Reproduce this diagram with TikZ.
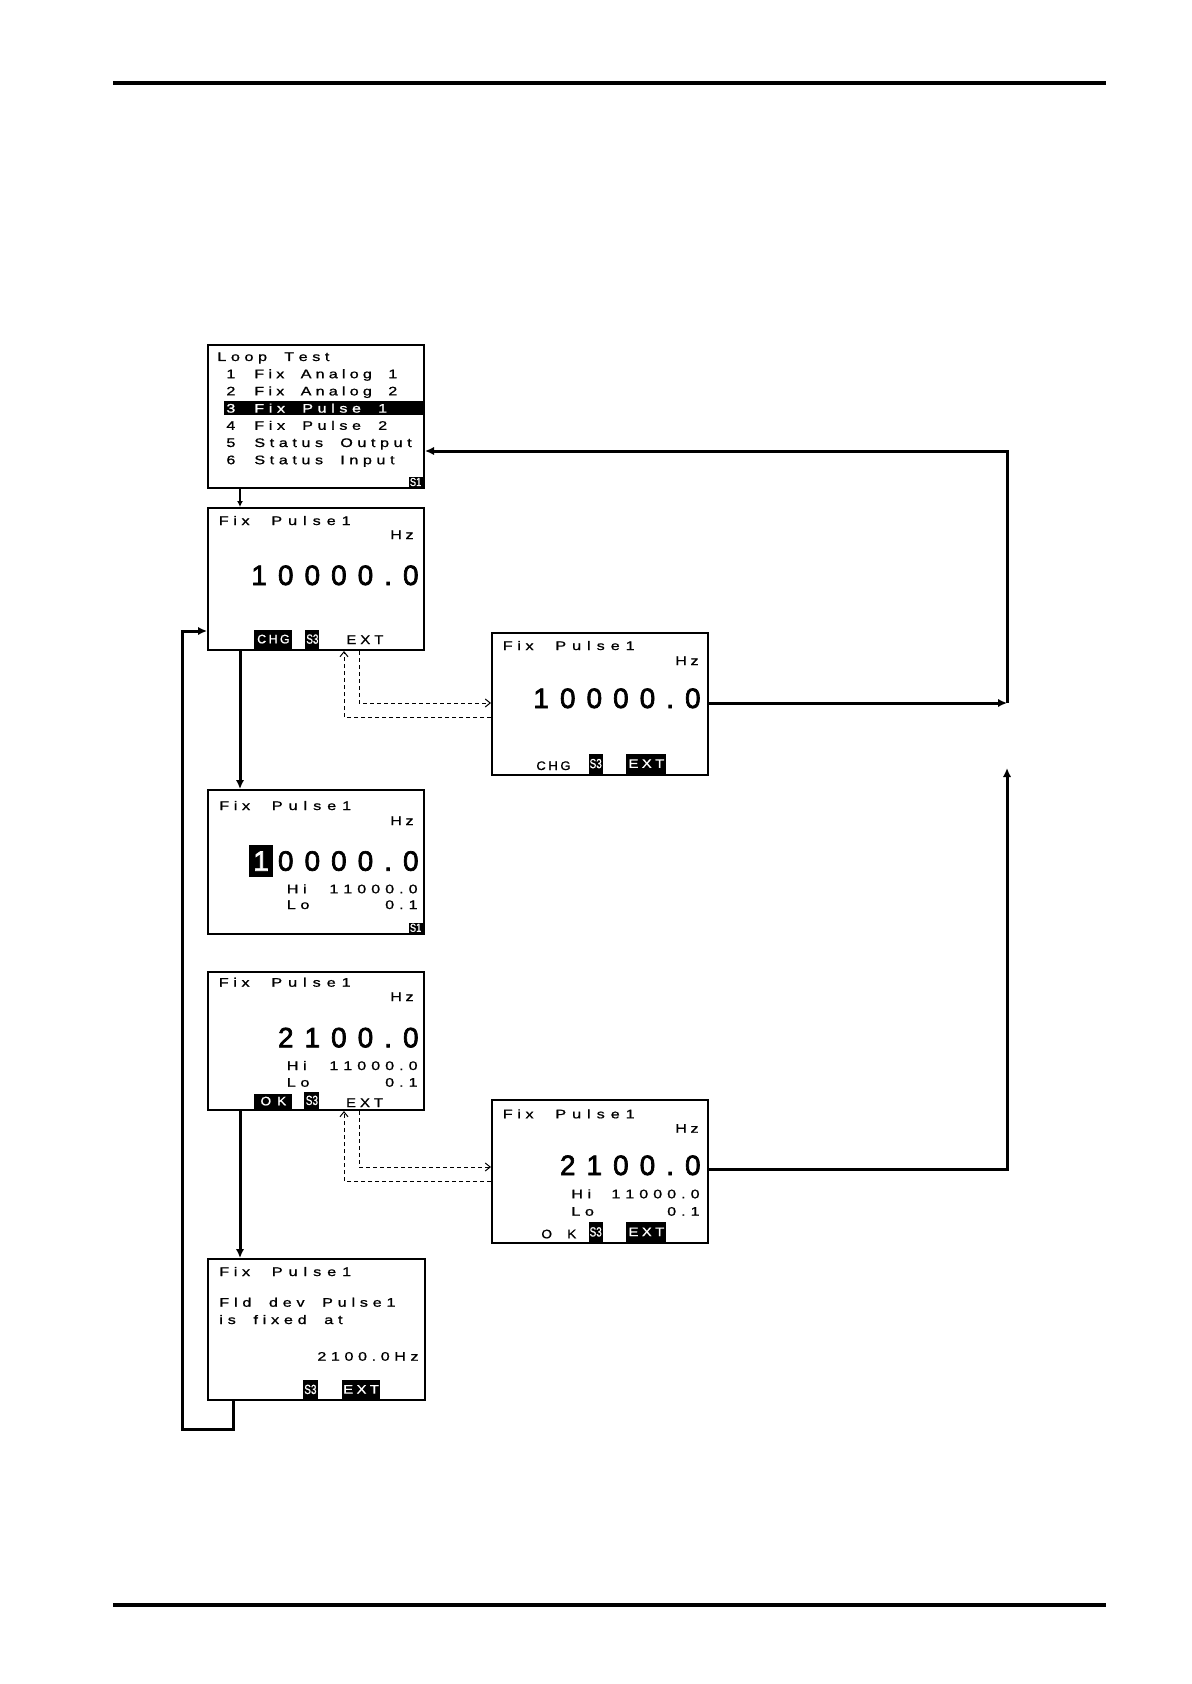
\documentclass[tikz,border=0pt]{standalone}
\usepackage{fontspec}
\usepackage{graphicx}
\usetikzlibrary{arrows.meta,calc}
\newfontfamily\lcdfont[FakeBold=0.9]{Liberation Sans}
\newfontfamily\lcdbigfont[FakeBold=2.4]{Liberation Sans}
\newdimen\lcdsp \lcdsp=4pt
\ExplSyntaxOn
\NewDocumentCommand\trk{O{1.3}mm}{\str_map_inline:nn{#3}{\str_if_eq:nnTF{##1}{~}{\kern\lcdsp}{\scalebox{#1}[1]{##1}}\kern#2\relax}\unkern}
\ExplSyntaxOff
\newcommand\lcdS{\lcdfont\fontsize{6.2pt}{7pt}\selectfont}
\newcommand\lcdB{\lcdbigfont\fontsize{14pt}{15pt}\selectfont}
\newcommand\sthree{\scalebox{0.75}[1]{\lcdfont\fontsize{6.6pt}{6.6pt}\selectfont S3}}
\newcommand\sone{\scalebox{0.8}[1]{\lcdfont\fontsize{5.8pt}{5.8pt}\selectfont S1}}
\newcommand\bfnt{\lcdfont\fontsize{6.2pt}{6.2pt}\selectfont}
\begin{document}
\begin{tikzpicture}[x=0.5pt,y=-0.5pt,
  screen/.style={draw,line width=1pt,anchor=north west,inner sep=0,minimum width=108pt},
  lcd/.style={inner sep=0,font=\lcdS},
  big/.style={inner sep=0,font=\lcdB},
  badge/.style={fill=black,text=white,inner sep=0,anchor=south west},
  conn/.style={line width=1.5pt,-{Latex[length=4.5pt,width=4.2pt]}},
  dsh/.style={line width=0.5pt,dash pattern=on 2pt off 1.5pt,-{Straight Barb[length=2.5pt,width=4pt]}},
]
\useasboundingbox (0,0) rectangle (1191,1684);
\fill[white] (0,0) rectangle (1191,1684);
% page rules
\draw[line width=2pt] (113,83) -- (1106,83);
\draw[line width=1.7pt] (113,1605) -- (1106,1605);

% ---------- screens ----------
\node[screen,minimum height=71.5pt] (s1) at (207,344) {};
\node[screen,minimum height=71pt] (s2) at (207,507) {};
\node[screen,minimum height=71pt] (s3) at (491,632) {};
\node[screen,minimum height=72pt] (s4) at (207,789) {};
\node[screen,minimum height=69pt] (s5) at (207,971) {};
\node[screen,minimum height=71.5pt] (s6) at (491,1099) {};
\node[screen,minimum height=70.5pt,minimum width=108.5pt] (s7) at (207,1258) {};

% ---------- screen 1 ----------
\node[fill=black,inner sep=0,anchor=north west,minimum width=99.5pt,minimum height=7.3pt] (s1band) at (224,400.5) {};
\node[lcd,anchor=base west] (s1t0) at (217,361) {\trk{2.3pt}{Loop Test}};
\node[lcd,anchor=base west] (s1n1) at (226,378.2) {\trk{0pt}{1}};
\node[lcd,anchor=base west] (s1t1) at (254,378.2) {\trk{2.1pt}{Fix Analog 1}};
\node[lcd,anchor=base west] (s1n2) at (226,395.4) {\trk{0pt}{2}};
\node[lcd,anchor=base west] (s1t2) at (254,395.4) {\trk{2.1pt}{Fix Analog 2}};
\node[lcd,anchor=base west,text=white] (s1n3) at (226,412.6) {\trk{0pt}{3}};
\node[lcd,anchor=base west,text=white] (s1t3) at (254,412.6) {\trk{2.3pt}{Fix Pulse 1}};
\node[lcd,anchor=base west] (s1n4) at (226,429.8) {\trk{0pt}{4}};
\node[lcd,anchor=base west] (s1t4) at (254,429.8) {\trk{2.3pt}{Fix Pulse 2}};
\node[lcd,anchor=base west] (s1n5) at (226,447) {\trk{0pt}{5}};
\node[lcd,anchor=base west] (s1t5) at (254,447) {\trk{2.3pt}{Status Output}};
\node[lcd,anchor=base west] (s1n6) at (226,464.2) {\trk{0pt}{6}};
\node[lcd,anchor=base west] (s1t6) at (254,464.2) {\trk{2.3pt}{Status Input}};
\node[badge,anchor=south east,minimum width=7pt,minimum height=4.6pt] (s1b) at (423,487) {\sone};

% ---------- screen 2 ----------
\node[lcd,anchor=base west] (s2t) at (218.5,525) {\trk{2.3pt}{Fix}};
\node[lcd,anchor=base west] (s2p) at (271,525) {\trk{3pt}{Pulse1}};
\node[lcd,anchor=base east] (s2u) at (414,539) {\trk{1.8pt}{Hz}};
\node[big,anchor=base east] (s2v) at (419,585) {\trk[1]{5.5pt}{10000.0}};
\node[badge,minimum width=19pt,minimum height=9.5pt] (s2c) at (254,649) {\bfnt\trk[1]{1.2pt}{CHG}};
\node[badge,minimum width=7pt,minimum height=9.5pt] (s2s) at (305,649) {\sthree};
\node[lcd,anchor=base west] (s2e) at (346,644) {\trk[1.2]{2pt}{EXT}};

% ---------- screen 3 ----------
\node[lcd,anchor=base west] (s3t) at (502.5,650) {\trk{2.3pt}{Fix}};
\node[lcd,anchor=base west] (s3p) at (555,650) {\trk{3pt}{Pulse1}};
\node[lcd,anchor=base east] (s3u) at (699,665) {\trk{1.8pt}{Hz}};
\node[big,anchor=base east] (s3v) at (701,708) {\trk[1]{5.5pt}{10000.0}};
\node[lcd,anchor=base west] (s3c) at (536,770) {\trk[1.05]{1.3pt}{CHG}};
\node[badge,minimum width=7pt,minimum height=10pt] (s3s) at (588.3,774) {\sthree};
\node[badge,minimum width=20pt,minimum height=10pt] (s3e) at (626,774) {\bfnt\trk[1.2]{1.7pt}{EXT}};

% ---------- screen 4 ----------
\node[lcd,anchor=base west] (s4t) at (219,810) {\trk{2.3pt}{Fix}};
\node[lcd,anchor=base west] (s4p) at (271.5,810) {\trk{3pt}{Pulse1}};
\node[lcd,anchor=base east] (s4u) at (414,825) {\trk{1.8pt}{Hz}};
\node[fill=black,inner sep=0,anchor=south west,minimum width=12.2pt,minimum height=15.8pt] (s4k) at (248.3,877.3) {};
\node[big,anchor=base,text=white] (s4d) at (261,870.7) {1};
\node[big,anchor=base east] (s4v) at (419,870.7) {\trk[1]{5.5pt}{0000.0}};
\node[lcd,anchor=base west] (s4h) at (286.5,893.3) {\trk{2.3pt}{Hi}};
\node[lcd,anchor=base east] (s4hv) at (418,893.3) {\trk{2.5pt}{11000.0}};
\node[lcd,anchor=base west] (s4l) at (286.5,909) {\trk{2.3pt}{Lo}};
\node[lcd,anchor=base east] (s4lv) at (418,909) {\trk{2.5pt}{0.1}};
\node[badge,anchor=south east,minimum width=7pt,minimum height=4.8pt] (s4b) at (423,933) {\sone};

% ---------- screen 5 ----------
\node[lcd,anchor=base west] (s5t) at (218.5,986.7) {\trk{2.3pt}{Fix}};
\node[lcd,anchor=base west] (s5p) at (271,986.7) {\trk{3pt}{Pulse1}};
\node[lcd,anchor=base east] (s5u) at (414,1001) {\trk{1.8pt}{Hz}};
\node[big,anchor=base east] (s5v) at (419,1047.3) {\trk[1]{5.5pt}{2100.0}};
\node[lcd,anchor=base west] (s5h) at (286.5,1070) {\trk{2.3pt}{Hi}};
\node[lcd,anchor=base east] (s5hv) at (418,1070) {\trk{2.5pt}{11000.0}};
\node[lcd,anchor=base west] (s5l) at (286.5,1086.7) {\trk{2.3pt}{Lo}};
\node[lcd,anchor=base east] (s5lv) at (418,1086.7) {\trk{2.5pt}{0.1}};
\node[badge,minimum width=19pt,minimum height=7.5pt] (s5k) at (254,1109) {\bfnt\scalebox{1.1}[1]{O}\hspace{3pt}\scalebox{1.1}[1]{K}};
\node[badge,minimum width=7.5pt,minimum height=8.2pt] (s5s) at (304,1109) {\sthree};
\node[lcd,anchor=base west] (s5e) at (345.7,1107) {\trk[1.2]{2pt}{EXT}};

% ---------- screen 6 ----------
\node[lcd,anchor=base west] (s6t) at (502.5,1118.3) {\trk{2.3pt}{Fix}};
\node[lcd,anchor=base west] (s6p) at (555,1118.3) {\trk{3pt}{Pulse1}};
\node[lcd,anchor=base east] (s6u) at (699,1132.7) {\trk{1.8pt}{Hz}};
\node[big,anchor=base east] (s6v) at (701,1175) {\trk[1]{5.5pt}{2100.0}};
\node[lcd,anchor=base west] (s6h) at (571,1198.3) {\trk{2.3pt}{Hi}};
\node[lcd,anchor=base east] (s6hv) at (700,1198.3) {\trk{2.5pt}{11000.0}};
\node[lcd,anchor=base west] (s6l) at (571,1215.7) {\trk{2.3pt}{Lo}};
\node[lcd,anchor=base east] (s6lv) at (700,1215.7) {\trk{2.5pt}{0.1}};
\node[lcd,anchor=base west] (s6k) at (541,1238.3) {\trk[1.1]{1.8pt}{O K}};
\node[badge,minimum width=7pt,minimum height=9.7pt] (s6s) at (588.3,1242) {\sthree};
\node[badge,minimum width=20pt,minimum height=9.7pt] (s6e) at (626,1242) {\bfnt\trk[1.2]{1.7pt}{EXT}};

% ---------- screen 7 ----------
\node[lcd,anchor=base west] (s7t) at (219,1276) {\trk{2.3pt}{Fix}};
\node[lcd,anchor=base west] (s7p) at (271.5,1276) {\trk{3pt}{Pulse1}};
\node[lcd,anchor=base west] (s7a) at (219,1306.7) {\trk{2.4pt}{Fld dev Pulse1}};
\node[lcd,anchor=base west] (s7b) at (219,1324) {\trk{2.4pt}{is fixed at}};
\node[lcd,anchor=base east] (s7c) at (419,1360.7) {\trk{2.3pt}{2100.0Hz}};
\node[badge,minimum width=7.7pt,minimum height=9.2pt] (s7s) at (302.3,1399) {\sthree};
\node[badge,minimum width=19pt,minimum height=9.2pt] (s7e) at (341.7,1399) {\bfnt\trk[1.2]{1.7pt}{EXT}};

% ---------- connectors ----------
\coordinate (xa) at (240,0);
\coordinate (lpA) at (233,1429);
\coordinate (lpB) at (182,1429);
\coordinate (lpC) at (182,631);
\coordinate (R1) at (1007,451);
\coordinate (R2) at (1007,703);
\coordinate (R3) at (1007,768);
\coordinate (R4) at (1007,1169);
\coordinate (d1) at (359,703);
\coordinate (d2) at (344,717);
\coordinate (d3) at (359,1167);
\coordinate (d4) at (344,1181);

\draw[line width=0.6pt,-{Latex[length=3pt,width=3pt]}] (s1.south -| xa) -- (s2.north -| xa);
\draw[conn] (s2.south -| xa) -- (s4.north -| xa);
\draw[conn] (s5.south -| xa) -- (s7.north -| xa);
\draw[conn] (s7.south -| lpA) -- (lpA) -- (lpB) -- (lpC) -- (s2.west |- lpC);

\draw[conn] (s3.east |- R2) -- (R2);
\draw[conn] (R2) -- (R1) -- (s1.east |- R1);
\draw[conn] (s6.east |- R4) -- (R4) -- (R3);

\draw[dsh] (s2.south -| d1) -- (d1) -- (s3.west |- d1);
\draw[dsh] (s3.west |- d2) -- (d2) -- (s2.south -| d2);
\draw[dsh] (s5.south -| d3) -- (d3) -- (s6.west |- d3);
\draw[dsh] (s6.west |- d4) -- (d4) -- (s5.south -| d4);
\end{tikzpicture}
\end{document}
